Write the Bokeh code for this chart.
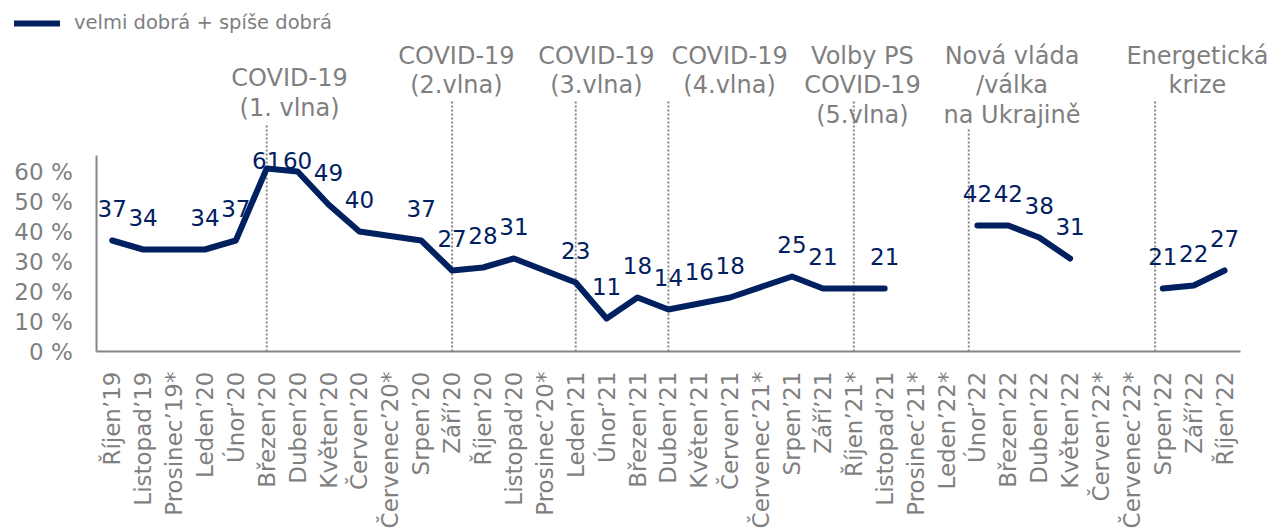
from bokeh.plotting import figure
from bokeh.models import FixedTicker, Legend, LegendItem, Range1d
from bokeh.core.properties import value
from bokeh.embed import file_html
from bokeh.resources import INLINE

# ---------------- data ----------------
months = ["Říjen’19", "Listopad’19", "Prosinec’19*", "Leden’20", "Únor’20", "Březen’20",
          "Duben’20", "Květen’20", "Červen’20", "Červenec’20*", "Srpen’20", "Září’20",
          "Říjen’20", "Listopad’20", "Prosinec’20*", "Leden’21", "Únor’21", "Březen’21",
          "Duben’21", "Květen’21", "Červen’21", "Červenec’21*", "Srpen’21", "Září’21",
          "Říjen’21*", "Listopad’21", "Prosinec’21*", "Leden’22*", "Únor’22", "Březen’22",
          "Duben’22", "Květen’22", "Červen’22*", "Červenec’22*", "Srpen’22", "Září’22",
          "Říjen’22"]
good = [37, 34, None, 34, 37, 61,
        60, 49, 40, None, 37, 27,
        28, 31, None, 23, 11, 18,
        14, 16, 18, None, 25, 21,
        None, 21, None, None, 42, 42,
        38, 31, None, None, 21, 22,
        27]
series_name = "velmi dobrá + spíše dobrá"

event_labels = ["COVID-19\n(1. vlna)", "COVID-19\n(2.vlna)", "COVID-19\n(3.vlna)",
                "COVID-19\n(4.vlna)", "Volby PS\nCOVID-19\n(5.vlna)",
                "Nová vláda\n/válka\nna Ukrajině", "Energetická\nkrize"]
event_x = [5, 11, 15, 18, 24, 27.72, 33.75]

y_ticks = [0, 10, 20, 30, 40, 50, 60]

# ---------------- layout / style ----------------
NAVY = "#002060"
GREY = "#7f7f7f"
LINE_GREY = "#858585"
FONT = "DejaVu Sans"
PX = 3.0                      # pixels per percentage point
CAT_W = 30.9                  # pixels per month
FIG_W = 1280
FIG_H = 528
AXIS_Y_PX = 351               # pixel row of the 0 % line
LEFT_PAD = 96.25              # pixels left of the first month slot
N = len(months)
Y_TOP = AXIS_Y_PX / PX
Y_BOTTOM = -(FIG_H - AXIS_Y_PX) / PX
AXIS_TOP = 65.5
X_START = -0.5 - LEFT_PAD / CAT_W
X_END = X_START + FIG_W / CAT_W

event_line_top = [76, 83.7, 83.7, 83.7, 83.7, 74.3, 83.7]
event_text_x = [5.74, 11.14, 15.67, 19.98, 24.28, 29.12, 35.12]
event_text_top = [95.7, 103.3, 103.3, 103.3, 103.3, 103.3, 103.3]

p = figure(frame_width=FIG_W, frame_height=FIG_H,
           x_range=Range1d(X_START, X_END), y_range=Range1d(Y_BOTTOM, Y_TOP),
           output_backend="svg", toolbar_location=None,
           min_border_left=0, min_border_right=0, min_border_top=0, min_border_bottom=0)
p.outline_line_color = None
p.grid.grid_line_color = None
p.background_fill_color = "white"
p.border_fill_color = "white"

# axes (drawn inside the frame at fixed positions)
p.yaxis.fixed_location = -0.5
p.yaxis.ticker = FixedTicker(ticks=y_ticks)
p.yaxis.major_label_overrides = {t: f"{t} %" for t in y_ticks}
p.yaxis.bounds = (0, AXIS_TOP)
p.yaxis.major_tick_line_color = None
p.yaxis.minor_tick_line_color = None
p.yaxis.major_tick_out = 0
p.yaxis.major_label_standoff = 24
p.yaxis.axis_line_color = LINE_GREY
p.yaxis.axis_line_width = 2
p.yaxis.major_label_text_font = FONT
p.yaxis.major_label_text_font_size = "23px"
p.yaxis.major_label_text_color = GREY

p.xaxis.fixed_location = 0
p.xaxis.ticker = FixedTicker(ticks=list(range(N)))
p.xaxis.major_label_overrides = {i: m for i, m in enumerate(months)}
p.xaxis.bounds = (-0.5, N - 0.5)
p.xaxis.major_label_orientation = 3.14159265 / 2
p.xaxis.major_tick_line_color = None
p.xaxis.minor_tick_line_color = None
p.xaxis.major_tick_out = 0
p.xaxis.major_label_standoff = 20
p.xaxis.axis_line_color = LINE_GREY
p.xaxis.axis_line_width = 2
p.xaxis.major_label_text_font = FONT
p.xaxis.major_label_text_font_size = "23px"
p.xaxis.major_label_text_color = GREY

# event dotted lines
p.segment(x0=event_x, y0=[0] * len(event_x), x1=event_x, y1=event_line_top,
          line_color=LINE_GREY, line_width=2, line_dash="2 2")

# event annotations
p.text(x=event_text_x, y=event_text_top, text=event_labels, text_align="center",
       text_baseline="top", text_font=value(FONT), text_font_size="24px",
       text_color=GREY, text_line_height=1.06)

# line segments (break where two or more months are missing)
xs, ys = [], []
cur_x, cur_y = [], []
last = None
for i, v in enumerate(good):
    if v is None:
        continue
    if last is not None and i - last > 2:
        xs.append(cur_x); ys.append(cur_y)
        cur_x, cur_y = [], []
    cur_x.append(i); cur_y.append(v)
    last = i
xs.append(cur_x); ys.append(cur_y)

line_r = p.multi_line(xs=xs, ys=ys, line_color=NAVY, line_width=6,
                      line_cap="round", line_join="round")

# data labels
LABEL_DY = 32 / PX
LABEL_CAP = 63.6
lab_x = [i for i, v in enumerate(good) if v is not None]
lab_v = [v for v in good if v is not None]
lab_y = [min(v + LABEL_DY, LABEL_CAP) for v in lab_v]
p.text(x=lab_x, y=lab_y, text=[str(v) for v in lab_v], text_align="center",
       text_baseline="middle", text_font=value(FONT), text_font_size="23px",
       text_color=NAVY)

legend = Legend(items=[LegendItem(label=series_name, renderers=[line_r])],
                location=(14, FIG_H - 34), glyph_width=46, glyph_height=20,
                label_text_font=FONT, label_text_font_size="19.5px",
                label_text_color=GREY, label_standoff=14, padding=0, margin=0,
                border_line_color=None, background_fill_alpha=0, spacing=0)
p.add_layout(legend)

open("out.html", "w").write(file_html(p, INLINE))
